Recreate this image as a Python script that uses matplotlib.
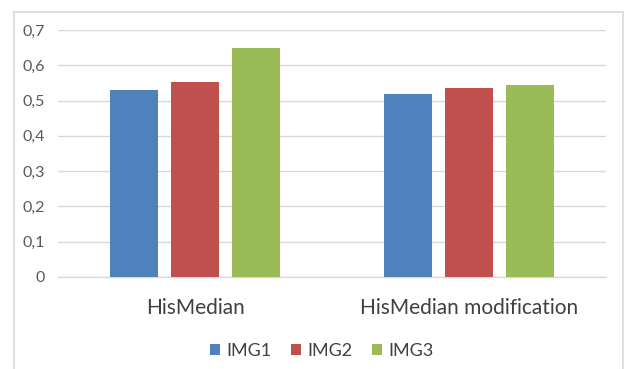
import matplotlib
matplotlib.use("Agg")
import matplotlib.pyplot as plt
from matplotlib.patches import Rectangle
import numpy as np

categories = ["HisMedian", "HisMedian modification"]
series_names = ["IMG1", "IMG2", "IMG3"]
img1 = [0.53, 0.52]
img2 = [0.553, 0.535]
img3 = [0.648, 0.544]
colors = ["#4F81BD", "#C0504D", "#9BBB59"]
yticks = [0, 0.1, 0.2, 0.3, 0.4, 0.5, 0.6, 0.7]
ytick_labels = ["0", "0,1", "0,2", "0,3", "0,4", "0,5", "0,6", "0,7"]

plt.rcParams["font.family"] = ["Lato", "DejaVu Sans"]

W, H = 624, 369
fig = plt.figure(figsize=(W / 100, H / 100), dpi=100)
fig.patch.set_facecolor("white")

# chart area frame (open at the bottom)
fig.patches.append(Rectangle((13.5 / W, -0.05), (623 - 13.5) / W, 1.05 - 11.5 / H,
                             transform=fig.transFigure, fill=False,
                             edgecolor="#d9d9d9", linewidth=1.2))

ax = fig.add_axes([58 / W, 1 - 277 / H, (606 - 58) / W, (277 - 30) / H])
x = np.arange(len(categories))
width = 0.175
step = 0.2226
for i, (vals, name) in enumerate(zip([img1, img2, img3], series_names)):
    ax.bar(x + (i - 1) * step, vals, width, color=colors[i], label=name, zorder=3)

ax.set_xlim(-0.5, 1.5)
ax.set_ylim(0, 0.7)
ax.set_yticks(yticks)
ax.set_yticklabels(ytick_labels, fontsize=11.5, color="#595959")
ax.set_xticks(x)
ax.set_xticklabels(categories, fontsize=15, color="#404040")
ax.tick_params(axis="both", length=0)
ax.tick_params(axis="y", pad=9.5)
ax.tick_params(axis="x", pad=15)
ax.grid(axis="y", color="#d9d9d9", linewidth=1.0, zorder=0)
for s in ["top", "right", "left"]:
    ax.spines[s].set_visible(False)
ax.spines["bottom"].set_color("#d9d9d9")
ax.spines["bottom"].set_linewidth(1.0)

leg = fig.legend(loc="center", bbox_to_anchor=(322 / W, 1 - 351 / H), ncol=3,
                 frameon=False, fontsize=13, handlelength=0.55, handleheight=0.55,
                 handletextpad=0.35, columnspacing=1.1)
for t in leg.get_texts():
    t.set_color("#404040")

fig.savefig("out.png", dpi=100, facecolor="white")
